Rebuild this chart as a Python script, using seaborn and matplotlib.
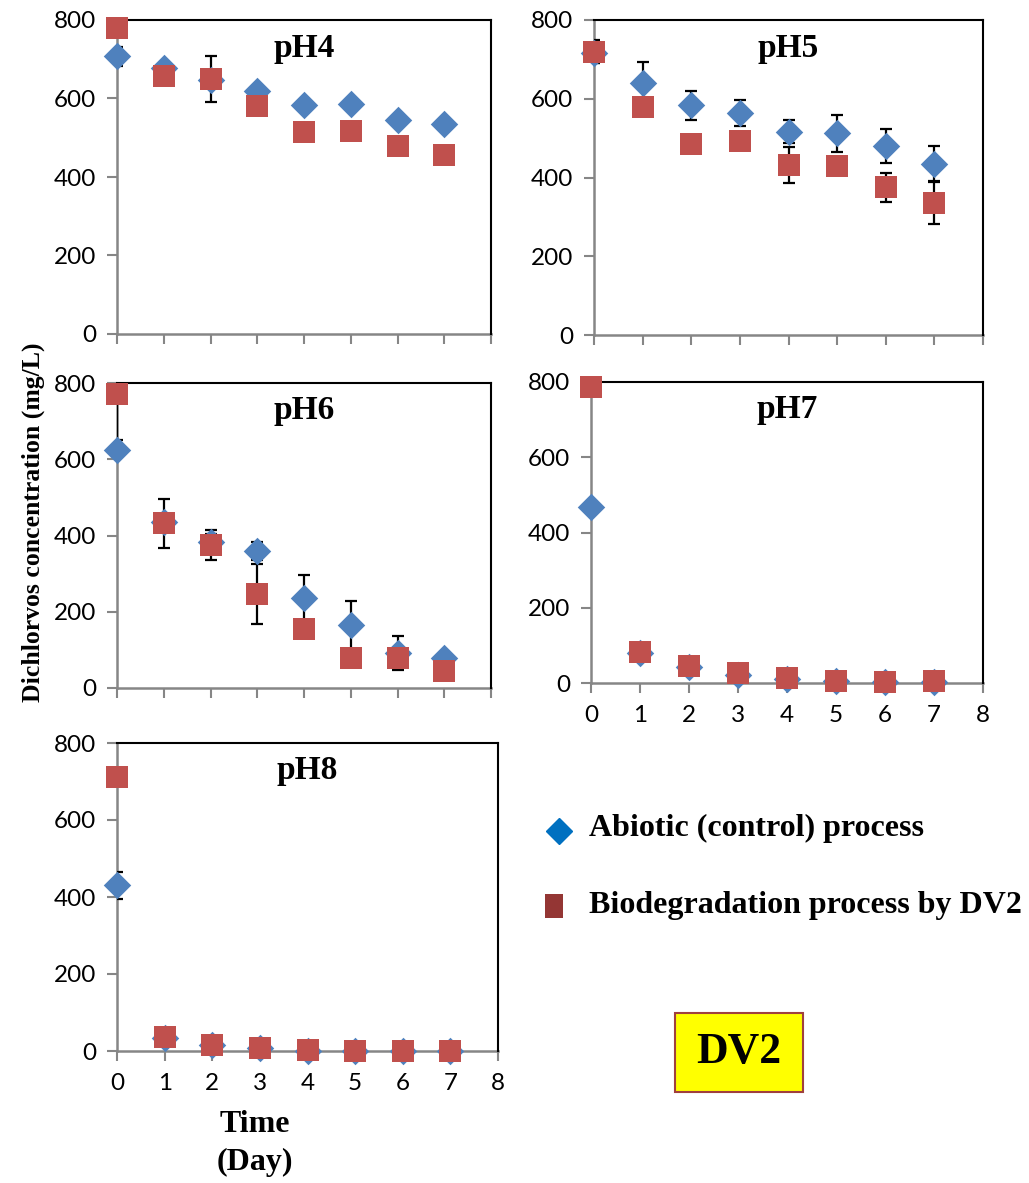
import numpy as np
import pandas as pd
import seaborn as sns
import matplotlib.pyplot as plt
from matplotlib.patches import Rectangle

# days sampled
days = [0, 1, 2, 3, 4, 5, 6, 7]

# Dichlorvos concentration (mg/L)
ph4_abiotic = [708, 677, 647, 620, 583, 586, 545, 535]
ph4_bio = [780, 657, 649, 582, 515, 517, 480, 456]
ph4_abiotic_err = [24, 12, 10, 12, 10, 10, 10, 10]
ph4_bio_err = [10, 15, 59, 12, 10, 10, 10, 10]

ph5_abiotic = [715, 640, 583, 564, 516, 513, 480, 435]
ph5_bio = [719, 579, 484, 493, 432, 429, 375, 335]
ph5_abiotic_err = [25, 53, 37, 33, 29, 47, 42, 45]
ph5_bio_err = [29, 15, 15, 15, 46, 15, 37, 53]

ph6_abiotic = [624, 435, 384, 360, 236, 164, 92, 79]
ph6_bio = [772, 432, 375, 246, 154, 80, 80, 44]
ph6_abiotic_err = [10, 20, 20, 24, 61, 65, 45, 10]
ph6_bio_err = [122, 65, 40, 78, 15, 15, 15, 10]

ph7_abiotic = [469, 80, 42, 22, 11, 4, 2, 3]
ph7_bio = [788, 83, 46, 27, 12, 5, 3, 4]
ph7_abiotic_err = [8, 10, 8, 6, 5, 5, 5, 5]
ph7_bio_err = [8, 10, 8, 6, 5, 5, 5, 5]

ph8_abiotic = [430, 33, 16, 7, 1, 0, 0, 0]
ph8_bio = [712, 37, 16, 7, 3, 0, 1, 0]
ph8_abiotic_err = [36, 8, 6, 5, 5, 5, 5, 5]
ph8_bio_err = [8, 8, 6, 5, 5, 5, 5, 5]

panel_names = ["pH4", "pH5", "pH6", "pH7", "pH8"]
series_names = ["Abiotic (control) process", "Biodegradation process by DV2"]

sns.set_style("white")
plt.rcParams["font.family"] = ["Lato", "DejaVu Sans"]
plt.rcParams["text.color"] = "black"

W, H = 1029, 1183
fig = plt.figure(figsize=(W / 100, H / 100), dpi=100)

def px_axes(left, top, right, bottom):
    return fig.add_axes([left / W, 1 - bottom / H, (right - left) / W, (bottom - top) / H])

# panel boxes in pixels: left, top, right, bottom
boxes = {
    "pH4": (117, 20, 491, 334),
    "pH5": (594, 20, 983, 335),
    "pH6": (117, 383, 491, 688),
    "pH7": (591, 382, 983, 683),
    "pH8": (117, 743, 498, 1051),
}
data = {
    "pH4": (ph4_abiotic, ph4_bio, ph4_abiotic_err, ph4_bio_err),
    "pH5": (ph5_abiotic, ph5_bio, ph5_abiotic_err, ph5_bio_err),
    "pH6": (ph6_abiotic, ph6_bio, ph6_abiotic_err, ph6_bio_err),
    "pH7": (ph7_abiotic, ph7_bio, ph7_abiotic_err, ph7_bio_err),
    "pH8": (ph8_abiotic, ph8_bio, ph8_abiotic_err, ph8_bio_err),
}
show_xlabels = {"pH4": False, "pH5": False, "pH6": False, "pH7": True, "pH8": True}

blue = "#4F81BD"
red = "#C0504D"
grey = "#868686"
serif = "Liberation Serif"

for name in panel_names:
    ab, bio, ab_err, bio_err = data[name]
    ax = px_axes(*boxes[name])
    df = pd.DataFrame({
        "day": days * 2,
        "conc": ab + bio,
        "err": ab_err + bio_err,
        "process": [series_names[0]] * len(days) + [series_names[1]] * len(days),
    })
    # error bars first so markers sit on top; clipped at the plot box
    ax.errorbar(df["day"], df["conc"], yerr=df["err"], fmt="none", ecolor="black",
                elinewidth=1.6, capsize=4.5, capthick=1.6, zorder=2)
    sub_a = df[df["process"] == series_names[0]]
    sub_b = df[df["process"] == series_names[1]]
    sns.scatterplot(data=sub_a, x="day", y="conc", marker="D", s=14 ** 2, color=blue,
                    edgecolor=blue, linewidth=0, ax=ax, zorder=3, clip_on=False, legend=False)
    sns.scatterplot(data=sub_b, x="day", y="conc", marker="s", s=16.5 ** 2, color=red,
                    edgecolor=red, linewidth=0, ax=ax, zorder=4, clip_on=False, legend=False)

    ax.set_xlim(0, 8)
    ax.set_ylim(0, 800)
    ax.set_xticks(range(0, 9))
    ax.set_yticks(range(0, 801, 200))
    ax.set_xlabel("")
    ax.set_ylabel("")
    for side in ["top", "right"]:
        ax.spines[side].set_color("black")
        ax.spines[side].set_linewidth(1.5)
    for side in ["left", "bottom"]:
        ax.spines[side].set_color(grey)
        ax.spines[side].set_linewidth(1.8)
        ax.spines[side].set_zorder(1)
    ax.tick_params(axis="both", direction="out", length=7, width=1.5, color=grey,
                   labelsize=17.5, labelcolor="black")
    ax.tick_params(axis="x", bottom=True, labelbottom=show_xlabels[name], pad=9)
    ax.tick_params(axis="y", left=True, pad=8)
    ax.text(0.5, 0.91, name, transform=ax.transAxes, ha="center", va="center",
            fontsize=24, fontweight="bold", family=serif, color="black")

fig.text(33 / W, 1 - 522 / H, "Dichlorvos concentration (mg/L)", rotation=90,
         ha="center", va="center", fontsize=18.5, fontweight="bold", family=serif)
fig.text(255 / W, 1 - 1124 / H, "Time", ha="center", va="center",
         fontsize=23, fontweight="bold", family=serif)
fig.text(255 / W, 1 - 1162 / H, "(Day)", ha="center", va="center",
         fontsize=23, fontweight="bold", family=serif)

# legend drawn by hand to match layout
fig.lines.append(plt.Line2D([559 / W], [1 - 831 / H], marker="D", markersize=13,
                            color="#0070C0", linestyle="none", transform=fig.transFigure))
fig.patches.append(Rectangle((545 / W, 1 - 918 / H), 18 / W, 24 / H, transform=fig.transFigure,
                             facecolor="#943634", edgecolor="none"))
fig.text(589 / W, 1 - 828 / H, series_names[0], ha="left", va="center",
         fontsize=23, fontweight="bold", family=serif)
fig.text(589 / W, 1 - 906 / H, series_names[1], ha="left", va="center",
         fontsize=23, fontweight="bold", family=serif)

# DV2 tag
fig.patches.append(Rectangle((675 / W, 1 - 1092 / H), 128 / W, 79 / H, transform=fig.transFigure,
                             facecolor="#FFFF00", edgecolor="#A0403D", linewidth=1.5))
fig.text(739 / W, 1 - 1052 / H, "DV2", ha="center", va="center",
         fontsize=31.5, fontweight="bold", family=serif)

fig.savefig("out.png", dpi=100)
